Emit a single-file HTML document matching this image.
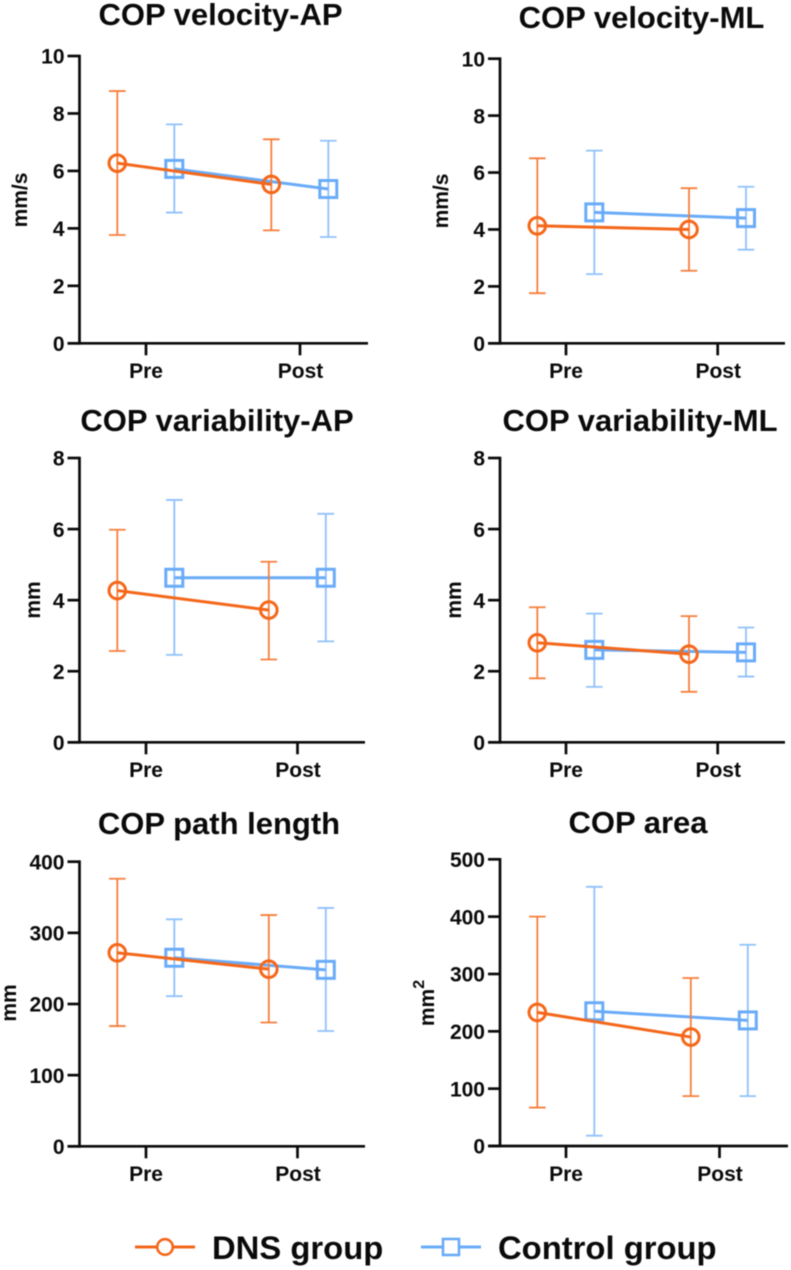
<!DOCTYPE html>
<html lang="en">
<head>
<meta charset="utf-8">
<title>COP measures, DNS vs control group</title>
<style>
html,body{margin:0;padding:0;background:#fff;}
body{width:791px;height:1270px;overflow:hidden;}
svg{display:block;filter:blur(0.45px);}
text{font-family:"Liberation Sans",Arial,sans-serif;font-weight:bold;fill:#0a0a0a;}
.title{font-size:31px;text-anchor:middle;}
.tick{font-size:21px;text-anchor:end;}
.cat{font-size:21px;text-anchor:middle;}
.ylab{font-size:21px;text-anchor:middle;}
.leg{font-size:32.8px;}
</style>
</head>
<body>
<svg id="chart" xmlns="http://www.w3.org/2000/svg" width="791" height="1270" viewBox="0 0 791 1270"></svg>
<script>
const categories = ['Pre', 'Post'];

const velocityTicks = [0, 2, 4, 6, 8, 10];
const variabilityTicks = [0, 2, 4, 6, 8];
const pathTicks = [0, 100, 200, 300, 400];
const areaTicks = [0, 100, 200, 300, 400, 500];

const velApDnsMean = [6.27, 5.53];
const velApDnsUpper = [8.78, 7.1];
const velApDnsLower = [3.77, 3.93];
const velApCtrlMean = [6.07, 5.37];
const velApCtrlUpper = [7.62, 7.05];
const velApCtrlLower = [4.55, 3.7];

const velMlDnsMean = [4.13, 4.0];
const velMlDnsUpper = [6.5, 5.45];
const velMlDnsLower = [1.76, 2.55];
const velMlCtrlMean = [4.6, 4.4];
const velMlCtrlUpper = [6.77, 5.5];
const velMlCtrlLower = [2.43, 3.29];

const varApDnsMean = [4.27, 3.72];
const varApDnsUpper = [5.98, 5.08];
const varApDnsLower = [2.57, 2.33];
const varApCtrlMean = [4.63, 4.63];
const varApCtrlUpper = [6.82, 6.43];
const varApCtrlLower = [2.46, 2.84];

const varMlDnsMean = [2.8, 2.48];
const varMlDnsUpper = [3.8, 3.55];
const varMlDnsLower = [1.8, 1.42];
const varMlCtrlMean = [2.6, 2.53];
const varMlCtrlUpper = [3.62, 3.23];
const varMlCtrlLower = [1.56, 1.85];

const pathDnsMean = [272, 249];
const pathDnsUpper = [376, 325];
const pathDnsLower = [169, 174];
const pathCtrlMean = [265, 248];
const pathCtrlUpper = [319, 335];
const pathCtrlLower = [211, 162];

const areaDnsMean = [233, 190];
const areaDnsUpper = [400, 293];
const areaDnsLower = [67, 87];
const areaCtrlMean = [235, 219];
const areaCtrlUpper = [452, 351];
const areaCtrlLower = [18, 87];

const panels = [
  {key:'velocity-ap', title:'COP velocity-AP', unit:'mm/s', ticks:velocityTicks,
   dns:[velApDnsMean, velApDnsUpper, velApDnsLower], ctrl:[velApCtrlMean, velApCtrlUpper, velApCtrlLower],
   box:{x0:79.5, xEnd:368, yTop:56, yBottom:343.3, catX:[146, 300], titleX:220.5, titleY:25, labelY:27, labelMid:200, catY:378}},
  {key:'velocity-ml', title:'COP velocity-ML', unit:'mm/s', ticks:velocityTicks,
   dns:[velMlDnsMean, velMlDnsUpper, velMlDnsLower], ctrl:[velMlCtrlMean, velMlCtrlUpper, velMlCtrlLower],
   box:{x0:500, xEnd:785, yTop:58.7, yBottom:343.3, catX:[566, 717.7], titleX:641.5, titleY:28, labelY:448, labelMid:201, catY:378}},
  {key:'variability-ap', title:'COP variability-AP', unit:'mm', ticks:variabilityTicks,
   dns:[varApDnsMean, varApDnsUpper, varApDnsLower], ctrl:[varApCtrlMean, varApCtrlUpper, varApCtrlLower],
   box:{x0:79.5, xEnd:365, yTop:458, yBottom:742.3, catX:[146, 297.5], titleX:217, titleY:431, labelY:40, labelMid:600, catY:777}},
  {key:'variability-ml', title:'COP variability-ML', unit:'mm', ticks:variabilityTicks,
   dns:[varMlDnsMean, varMlDnsUpper, varMlDnsLower], ctrl:[varMlCtrlMean, varMlCtrlUpper, varMlCtrlLower],
   box:{x0:500, xEnd:785, yTop:458, yBottom:742.3, catX:[566, 717.7], titleX:640, titleY:431, labelY:461, labelMid:600, catY:777}},
  {key:'path-length', title:'COP path length', unit:'mm', ticks:pathTicks,
   dns:[pathDnsMean, pathDnsUpper, pathDnsLower], ctrl:[pathCtrlMean, pathCtrlUpper, pathCtrlLower],
   box:{x0:79.5, xEnd:365, yTop:861.7, yBottom:1146.3, catX:[146, 297.5], titleX:219, titleY:834, labelY:16, labelMid:1003, catY:1181}},
  {key:'area', title:'COP area', unit:'mm', sup:'2', ticks:areaTicks,
   dns:[areaDnsMean, areaDnsUpper, areaDnsLower], ctrl:[areaCtrlMean, areaCtrlUpper, areaCtrlLower],
   box:{x0:500, xEnd:788, yTop:859.3, yBottom:1146, catX:[566, 719.5], titleX:638, titleY:833, labelY:434, labelMid:1003, catY:1181}}
];

const ORANGE = '#f4671a';
const ORANGE_ERR = '#f67e3c';
const BLUE = '#69abf8';
const BLUE_ERR = '#90c1fb';
const NS = 'http://www.w3.org/2000/svg';
const root = document.getElementById('chart');

function mk(parent, tag, attrs, txt) {
  const e = document.createElementNS(NS, tag);
  for (const k in attrs) e.setAttribute(k, attrs[k]);
  if (txt !== undefined) e.textContent = txt;
  parent.appendChild(e);
  return e;
}

function drawSeries(g, s, xs, yScale, color, errColor, isSquare, seriesName) {
  const [mean, upper, lower] = s;
  mean.forEach((v, i) => {
    const x = xs[i];
    const bar = mk(g, 'path', {
      d: 'M' + (x - 8.3) + ' ' + yScale(upper[i]) + 'H' + (x + 8.3) +
         'M' + x + ' ' + yScale(upper[i]) + 'V' + yScale(lower[i]) +
         'M' + (x - 8.3) + ' ' + yScale(lower[i]) + 'H' + (x + 8.3),
      fill: 'none', stroke: errColor, 'stroke-width': 1.8
    });
    
    
  });
  const line = mk(g, 'line', {
    x1: xs[0], y1: yScale(mean[0]), x2: xs[1], y2: yScale(mean[1]),
    stroke: color, 'stroke-width': 3
  });
  
  
  mean.forEach((v, i) => {
    const x = xs[i], y = yScale(v);
    const marker = isSquare
      ? mk(g, 'rect', {x: x - 8.5, y: y - 8.5, width: 17, height: 17, fill: 'none', stroke: color, 'stroke-width': 3})
      : mk(g, 'circle', {cx: x, cy: y, r: 8.3, fill: 'none', stroke: color, 'stroke-width': 3});
    
    
  });
}

panels.forEach(p => {
  const b = p.box;
  const g = mk(root, 'g', {});
  
  

  const maxTick = p.ticks[p.ticks.length - 1];
  const yScale = v => b.yBottom - (v / maxTick) * (b.yBottom - b.yTop);
  const xDns = b.catX.map(c => c - 28.7);
  const xCtrl = b.catX.map(c => c + 28.3);

  const title = mk(g, 'text', {class: 'title', x: b.titleX, y: b.titleY}, p.title);
  
  

  const axisY = mk(g, 'line', {x1: b.x0, y1: b.yTop - 1.3, x2: b.x0, y2: b.yBottom + 1.3, stroke: '#0a0a0a', 'stroke-width': 2.7});
  
  

  const axisX = mk(g, 'line', {x1: b.x0 - 12, y1: b.yBottom, x2: b.xEnd, y2: b.yBottom, stroke: '#0a0a0a', 'stroke-width': 2.7});
  
  

  p.ticks.forEach(t => {
    const y = yScale(t);
    const mark = mk(g, 'line', {x1: b.x0 - 12, y1: y, x2: b.x0, y2: y, stroke: '#0a0a0a', 'stroke-width': 2.7});
    
    
    const lab = mk(g, 'text', {class: 'tick', x: b.x0 - 15, y: y + 7.7}, String(t));
    
    
  });

  categories.forEach((c, i) => {
    const x = b.catX[i];
    const mark = mk(g, 'line', {x1: x, y1: b.yBottom, x2: x, y2: b.yBottom + 12, stroke: '#0a0a0a', 'stroke-width': 2.7});
    
    
    const lab = mk(g, 'text', {class: 'cat', x: x + (i ? 0.5 : 0), y: b.catY}, c);
    
    
  });

  const yl = mk(g, 'text', {class: 'ylab', transform: 'translate(' + b.labelY + ',' + b.labelMid + ') rotate(-90)'}, p.unit);
  
  
  if (p.sup) {
    mk(yl, 'tspan', {dy: -10, 'font-size': 16}, p.sup);
  }

  drawSeries(g, p.ctrl, xCtrl, yScale, BLUE, BLUE_ERR, true, 'control');
  drawSeries(g, p.dns, xDns, yScale, ORANGE, ORANGE_ERR, false, 'dns');
});

const legend = mk(root, 'g', {});



const legDns = mk(legend, 'g', {});


mk(legDns, 'line', {x1: 135, y1: 1247, x2: 195, y2: 1247, stroke: ORANGE, 'stroke-width': 3});
mk(legDns, 'circle', {cx: 165, cy: 1247, r: 7.8, fill: '#fff', stroke: ORANGE, 'stroke-width': 2.6});
mk(legDns, 'text', {class: 'leg', x: 212, y: 1259}, 'DNS group');

const legCtrl = mk(legend, 'g', {});


mk(legCtrl, 'line', {x1: 421, y1: 1247, x2: 481, y2: 1247, stroke: BLUE, 'stroke-width': 3});
mk(legCtrl, 'rect', {x: 443, y: 1239, width: 16, height: 16, fill: '#fff', stroke: BLUE, 'stroke-width': 2.6});
mk(legCtrl, 'text', {class: 'leg', x: 498, y: 1259}, 'Control group');
</script>
</body>
</html>
